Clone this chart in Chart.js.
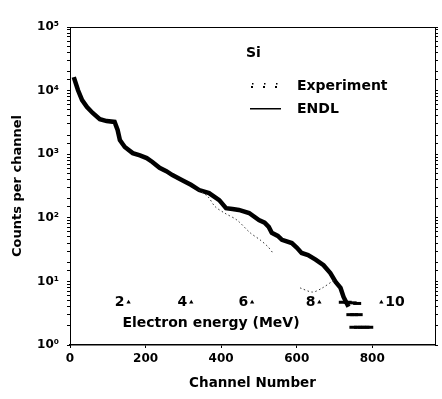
<!DOCTYPE html>
<html>
<head>
<meta charset="utf-8">
<script src="https://cdn.jsdelivr.net/npm/chart.js@4.4.1/dist/chart.umd.min.js"></script>
<style>
  html, body { margin: 0; padding: 0; background: #fff; }
</style>
</head>
<body>
<canvas id="myChart" width="442" height="399"></canvas>
<script>
// measured spectrum (thick jagged curve)
var expChannels = [10, 21, 32, 45, 60, 79, 97, 118, 126, 132, 145, 166, 185, 203, 218, 237, 255, 271, 297, 320, 342, 368, 395, 413, 430, 447, 474, 500, 515, 526, 534, 550, 561, 587, 600, 613, 630, 650, 671, 689, 703, 716, 724, 737];
var expCounts = [16300, 10200, 7100, 5500, 4450, 3560, 3320, 3220, 2400, 1670, 1300, 1040, 960, 870, 755, 610, 540, 470, 390, 330, 273, 245, 190, 142, 138, 133, 119, 92, 84, 72, 58, 52, 45, 40, 34, 28, 26, 22, 18, 13.5, 9.8, 7.9, 5.7, 4.0];

// scattered low-count points at the end of the spectrum
var tailChannels = [722, 735, 748, 760, 742, 752, 764, 750, 762, 772, 782, 792];
var tailCounts = [4.7, 4.7, 4.6, 4.5, 3.0, 3.0, 3.0, 1.9, 1.9, 1.9, 1.9, 1.9];

// ENDL calculation (thin line), null = not visible
var endlChannels = [340, 365, 384, 410, 442, 477, 503, 524, 537, 570, 609, 642, 668, 692, 702];
var endlCounts = [275, 215, 150, 118, 92, 58, 45, 35, 28, null, 7.9, 6.8, 7.9, 9.8, 10.5];

// electron energy markers along the channel axis
var energyLabels = ["2", "4", "6", "8", "10"];
var energyChannels = [155, 321, 482, 660, 824];
var energyMarkY = 4.7;

var xTicks = [0, 200, 400, 600, 800];
var sup = ["\u2070", "\u00B9", "\u00B2", "\u00B3", "\u2074", "\u2075"];

var FONT = '"DejaVu Sans", "Liberation Sans", sans-serif';

function toPoints(xs, ys) {
  return xs.map(function (v, i) { return { x: v, y: ys[i] }; });
}

var textPlugin = {
  id: "texts",
  afterDatasetsDraw: function (chart) {
    var ctx = chart.ctx;
    var x = chart.scales.x, y = chart.scales.y;
    ctx.save();
    ctx.fillStyle = "#000";
    ctx.font = "bold 14px " + FONT;
    ctx.textBaseline = "middle";

    // energy numbers beside the triangles
    var ey = y.getPixelForValue(energyMarkY);
    energyChannels.forEach(function (c, i) {
      var px = x.getPixelForValue(c);
      if (i < energyChannels.length - 1) {
        ctx.textAlign = "right";
        ctx.fillText(energyLabels[i], px - 4, ey);
      } else {
        ctx.textAlign = "left";
        ctx.fillText(energyLabels[i], px + 4, ey);
      }
    });
    ctx.textAlign = "center";
    ctx.fillText("Electron energy (MeV)", 211, 323);

    // legend
    ctx.textAlign = "left";
    ctx.fillText("Si", 246, 53);
    ctx.fillText("Experiment", 297, 86);
    ctx.fillText("ENDL", 297, 109);
    [251, 263, 275].forEach(function (dx) {
      ctx.fillRect(dx, 86, 2, 2);
      ctx.fillRect(dx + 1, 83, 1.5, 1.5);
    });
    ctx.fillRect(250, 108, 31, 1.5);
    ctx.restore();
  }
};

new Chart("myChart", {
  type: "line",
  data: {
    datasets: [
      {
        label: "ENDL",
        data: toPoints(endlChannels, endlCounts),
        borderColor: "#333",
        borderWidth: 1,
        borderDash: [1.5, 2.5],
        pointRadius: 0,
        fill: false,
        spanGaps: false,
        tension: 0.3
      },
      {
        label: "Experiment",
        data: toPoints(expChannels, expCounts),
        borderColor: "#000",
        borderWidth: 4.5,
        pointRadius: 0,
        fill: false,
        tension: 0
      },
      {
        label: "Experiment tail",
        data: toPoints(tailChannels, tailCounts),
        showLine: false,
        pointStyle: "line",
        pointRadius: 4,
        borderColor: "#000",
        borderWidth: 3
      },
      {
        label: "Energy",
        data: energyChannels.map(function (c) { return { x: c, y: energyMarkY }; }),
        showLine: false,
        pointStyle: "triangle",
        pointRadius: 2.5,
        backgroundColor: "#000",
        borderColor: "#000",
        borderWidth: 0
      }
    ]
  },
  options: {
    responsive: false,
    animation: false,
    layout: { padding: 0 },
    plugins: {
      legend: { display: false },
      tooltip: { enabled: false }
    },
    scales: {
      x: {
        type: "linear",
        position: "bottom",
        min: 0,
        max: 966,
        afterBuildTicks: function (s) {
          s.ticks = xTicks.map(function (v) { return { value: v }; });
        },
        afterFit: function (s) { s.height = 54; },
        ticks: {
          padding: 4,
          color: "#000",
          font: { family: FONT, weight: "bold", size: 12 }
        },
        grid: { drawOnChartArea: false, tickLength: 3, color: "#000" },
        border: { color: "#000", width: 1.5 },
        title: {
          display: true,
          text: "Channel Number",
          color: "#000",
          font: { family: FONT, weight: "bold", size: 13.5 },
          padding: { top: 0, bottom: 7 }
        }
      },
      x2: {
        type: "linear",
        position: "top",
        min: 0,
        max: 966,
        afterFit: function (s) { s.height = 27; },
        ticks: { display: false },
        grid: { display: false },
        border: { color: "#000", width: 1, dash: [6, 2] }
      },
      y: {
        type: "logarithmic",
        position: "left",
        min: 1,
        max: 100000,
        afterFit: function (s) { s.width = 70; },
        ticks: {
          autoSkip: false,
          padding: 8,
          color: "#000",
          font: { family: FONT, weight: "bold", size: 12 },
          callback: function (v) {
            var l = Math.log10(v);
            var r = Math.round(l);
            return Math.abs(l - r) < 1e-9 ? "10" + sup[r] : "";
          }
        },
        grid: { drawOnChartArea: false, tickLength: 3, color: "#000" },
        border: { color: "#000", width: 1, dash: [1, 3] },
        title: {
          display: true,
          text: "Counts per channel",
          color: "#000",
          font: { family: FONT, weight: "bold", size: 13 },
          padding: { top: 10, bottom: 0 }
        }
      },
      y2: {
        type: "logarithmic",
        position: "right",
        min: 1,
        max: 100000,
        afterFit: function (s) { s.width = 5; },
        ticks: { display: false },
        grid: { drawOnChartArea: false, tickLength: 3, color: "#000" },
        border: { color: "#000", width: 1, dash: [1, 3] }
      }
    }
  },
  plugins: [textPlugin]
});
</script>
</body>
</html>
